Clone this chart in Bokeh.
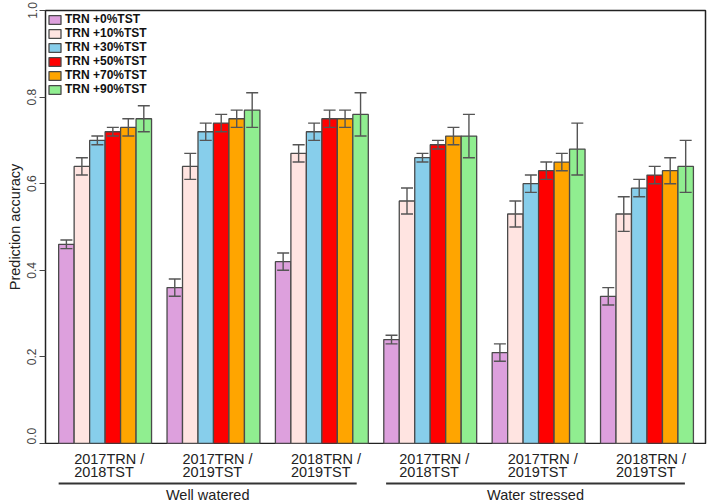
from bokeh.plotting import figure
from bokeh.models import (Range1d, FixedTicker, PrintfTickFormatter, Legend, LegendItem,
                          ColumnDataSource, Whisker, TeeHead)
from bokeh.layouts import column
from bokeh.core.properties import value
from bokeh.embed import file_html
from bokeh.resources import INLINE

# ---------------- data ----------------
pairs_line1 = ["2017TRN /", "2017TRN /", "2018TRN /", "2017TRN /", "2017TRN /", "2018TRN /"]
pairs_line2 = ["2018TST", "2019TST", "2019TST", "2018TST", "2019TST", "2019TST"]
conditions = ["Well watered", "Water stressed"]
series_names = ["TRN +0%TST", "TRN +10%TST", "TRN +30%TST", "TRN +50%TST", "TRN +70%TST", "TRN +90%TST"]
series_colors = ["#DDA0DD", "#FFE4E1", "#87CEEB", "#FF0000", "#FFA500", "#90EE90"]

acc_0 = [0.46, 0.36, 0.42, 0.24, 0.21, 0.34]
acc_10 = [0.64, 0.64, 0.67, 0.56, 0.53, 0.53]
acc_30 = [0.70, 0.72, 0.72, 0.66, 0.60, 0.59]
acc_50 = [0.72, 0.74, 0.75, 0.69, 0.63, 0.62]
acc_70 = [0.73, 0.75, 0.75, 0.71, 0.65, 0.63]
acc_90 = [0.75, 0.77, 0.76, 0.71, 0.68, 0.64]

err_0 = [0.01, 0.02, 0.02, 0.01, 0.02, 0.02]
err_10 = [0.02, 0.03, 0.02, 0.03, 0.03, 0.04]
err_30 = [0.01, 0.02, 0.02, 0.01, 0.02, 0.02]
err_50 = [0.01, 0.02, 0.02, 0.01, 0.02, 0.02]
err_70 = [0.02, 0.02, 0.02, 0.02, 0.02, 0.03]
err_90 = [0.03, 0.04, 0.05, 0.05, 0.06, 0.06]

y_ticks = [0.0, 0.2, 0.4, 0.6, 0.8, 1.0]

accs = [acc_0, acc_10, acc_30, acc_50, acc_70, acc_90]
errs = [err_0, err_10, err_30, err_50, err_70, err_90]

n_groups = len(pairs_line1)
n_series = len(series_names)
group_step = n_series + 1  # one bar-width gap between groups

FONT = "Liberation Sans"
W = 707
H_TOP = 444
H_BOT = 58
x_range = Range1d(-0.85, n_groups * group_step - 1 + 0.78)

p = figure(width=W, height=H_TOP, x_range=x_range, y_range=Range1d(0, 1),
           output_backend="svg", toolbar_location=None, x_axis_location=None,
           min_border_left=45, min_border_right=2, min_border_top=10, min_border_bottom=1)
p.xgrid.visible = False
p.ygrid.visible = False
p.outline_line_color = "#222222"
p.outline_line_width = 1.5
p.background_fill_color = "white"

yaxis = p.yaxis[0]
yaxis.ticker = FixedTicker(ticks=y_ticks)
yaxis.formatter = PrintfTickFormatter(format="%.1f")
yaxis.major_label_orientation = "vertical"
yaxis.major_label_text_font = FONT
yaxis.major_label_text_font_size = "12px"
yaxis.major_label_text_color = "#444444"
yaxis.major_label_standoff = 3
yaxis.major_tick_out = 6
yaxis.major_tick_in = 0
yaxis.minor_tick_out = 0
yaxis.minor_tick_in = 0
yaxis.axis_line_color = "#222222"
yaxis.major_tick_line_color = "#444444"
yaxis.axis_label = "Prediction accuracy"
yaxis.axis_label_text_font = FONT
yaxis.axis_label_text_font_size = "14.5px"
yaxis.axis_label_text_font_style = "normal"
yaxis.axis_label_text_color = "#222222"
yaxis.axis_label_standoff = 2

items = []
for s in range(n_series):
    xs = [g * group_step + s + 0.5 for g in range(n_groups)]
    top = accs[s]
    up = [a + e for a, e in zip(accs[s], errs[s])]
    lo = [a - e for a, e in zip(accs[s], errs[s])]
    src = ColumnDataSource(dict(x=xs, top=top, upper=up, lower=lo))
    r = p.vbar(x="x", top="top", bottom=0, width=1.0, source=src,
               fill_color=series_colors[s], line_color="#4a4a4a", line_width=1.3)
    items.append(LegendItem(label=series_names[s], renderers=[r]))
    wk = Whisker(source=src, base="x", upper="upper", lower="lower",
                 line_color="#555555", line_width=1.4, level="overlay",
                 upper_head=TeeHead(size=12, line_color="#555555", line_width=1.4),
                 lower_head=TeeHead(size=12, line_color="#555555", line_width=1.4))
    p.add_layout(wk)

legend = Legend(items=items, location="top_left", margin=2, padding=3,
                spacing=0, glyph_width=15, glyph_height=11, label_height=11,
                label_standoff=3, label_text_font=FONT, label_text_font_size="12px",
                label_text_font_style="bold", label_text_color="#111111",
                border_line_color=None, background_fill_alpha=0)
p.add_layout(legend)

# ---------------- bottom label strip ----------------
q = figure(width=W, height=H_BOT, x_range=x_range, y_range=Range1d(H_BOT, 0),
           output_backend="svg", toolbar_location=None, x_axis_location=None,
           y_axis_location=None, min_border_left=45, min_border_right=2,
           min_border_top=0, min_border_bottom=0)
q.xgrid.visible = False
q.ygrid.visible = False
q.outline_line_color = None

label_half = 2.0
lx = [g * group_step + n_series / 2 - label_half for g in range(n_groups)]
q.text(x=lx, y=[14] * n_groups, text=pairs_line1, text_align="left", text_baseline="middle",
       text_font=value(FONT), text_font_size="14.5px", text_color="#222222")
q.text(x=lx, y=[27] * n_groups, text=pairs_line2, text_align="left", text_baseline="middle",
       text_font=value(FONT), text_font_size="14.5px", text_color="#222222")

half = n_groups // 2
cond_x0 = [c * half * group_step + 0.15 * c for c in range(2)]
cond_x1 = [(c + 1) * half * group_step - 1 - 0.75 + 0.2 * c for c in range(2)]
q.segment(x0=cond_x0, y0=[39, 39], x1=cond_x1, y1=[39, 39], line_color="#333333", line_width=2)
q.text(x=[(a + b) / 2 for a, b in zip(cond_x0, cond_x1)], y=[50, 50], text=conditions,
       text_align="center", text_baseline="middle", text_font=value(FONT),
       text_font_size="14.5px", text_color="#222222")

layout = column(p, q, spacing=0)
open("out.html", "w").write(file_html(layout, INLINE))
